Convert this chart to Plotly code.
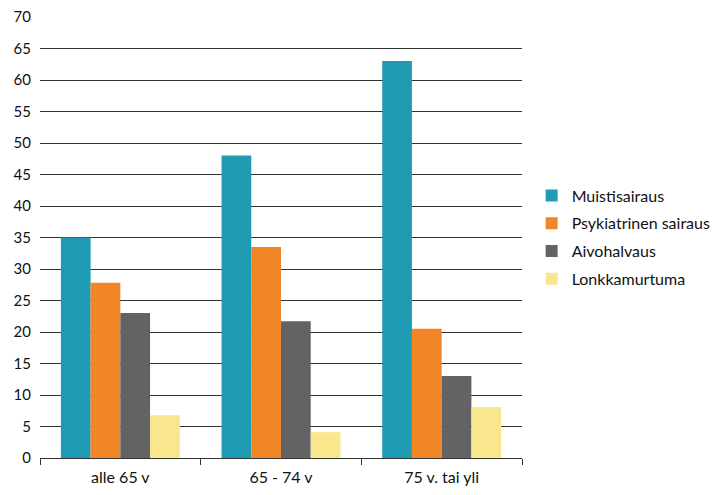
import plotly.graph_objects as go

categories = ["alle 65 v", "65 - 74 v", "75 v. tai yli"]
series_names = ["Muistisairaus", "Psykiatrinen sairaus", "Aivohalvaus", "Lonkkamurtuma"]
muisti = [35.0, 48.0, 63.0]
psyk = [27.8, 33.5, 20.5]
aivo = [23.0, 21.7, 13.0]
lonkka = [6.8, 4.1, 8.1]
y_ticks = list(range(0, 75, 5))

colors = ["#1F9CB3", "#F28627", "#636365", "#F9E78E"]
values = [muisti, psyk, aivo, lonkka]

fig = go.Figure()
for name, vals, col in zip(series_names, values, colors):
    fig.add_trace(go.Bar(x=categories, y=vals, name=name, legendgroup=name,
                         marker=dict(color=col, line=dict(width=0))))

font = "Lato, 'Open Sans', sans-serif"
fig.update_layout(
    width=723, height=495,
    margin=dict(l=40, r=201, t=17, b=37, autoexpand=False),
    plot_bgcolor="white", paper_bgcolor="white",
    barmode="group", bargap=0.26, bargroupgap=0,
    font=dict(family=font, size=15, color="#111111"),
    legend=dict(x=1.02, y=0.5, yanchor="middle", xanchor="left",
                font=dict(size=16, color="#111111"), tracegroupgap=4,
                itemwidth=30),
    showlegend=True,
)
fig.update_xaxes(showline=True, linecolor="#333333", linewidth=1, automargin=False,
                 ticks="outside", tickson="boundaries", ticklen=6, tickcolor="#333333",
                 showgrid=False, tickfont=dict(size=16), ticklabelstandoff=5)
fig.update_yaxes(range=[0, 70], tickvals=y_ticks, showgrid=True, gridcolor="#333333",
                 gridwidth=1, zeroline=False, showline=False, ticks="", ticklabelstandoff=8,
                 automargin=False, tickfont=dict(size=15))
fig.write_html("out.html")
